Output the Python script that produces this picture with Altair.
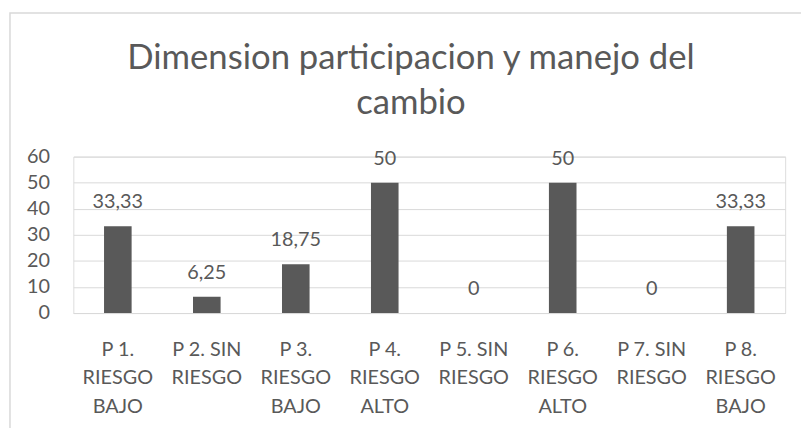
import altair as alt
import pandas as pd

title_lines = ["Dimension participacion y manejo del", "cambio"]
categories = [
    "P 1.|RIESGO|BAJO",
    "P 2. SIN|RIESGO",
    "P 3.|RIESGO|BAJO",
    "P 4.|RIESGO|ALTO",
    "P 5. SIN|RIESGO",
    "P 6.|RIESGO|ALTO",
    "P 7. SIN|RIESGO",
    "P 8.|RIESGO|BAJO",
]
values = [33.33, 6.25, 18.75, 50, 0, 50, 0, 33.33]
y_ticks = [0, 10, 20, 30, 40, 50, 60]

df = pd.DataFrame({"cat": categories, "v": values})

FONT = "Lato"
GREY = "#595959"
GRID = "#d9d9d9"

x_enc = alt.X(
    "cat:N",
    sort=categories,
    title=None,
    scale=alt.Scale(paddingInner=0.69, paddingOuter=0.345),
    axis=alt.Axis(
        labelExpr="split(datum.label, '|')",
        labelAngle=0,
        labelFont=FONT,
        labelFontSize=20,
        labelColor=GREY,
        labelLineHeight=28.5,
        labelPadding=27,
        labelBaseline="top",
        labelOverlap=False,
        ticks=False,
        domainColor=GRID,
        domainWidth=1,
        grid=False,
    ),
)
y_enc = alt.Y(
    "v:Q",
    title=None,
    scale=alt.Scale(domain=[0, 60], nice=False),
    axis=alt.Axis(
        values=y_ticks,
        tickCount=7,
        labelFont=FONT,
        labelFontSize=20,
        labelColor=GREY,
        labelPadding=24,
        labelOverlap=False,
        labelBound=False,
        ticks=False,
        domain=False,
        gridColor=GRID,
        gridWidth=1,
    ),
)

bars = alt.Chart(df).mark_bar(color=GREY).encode(x=x_enc, y=y_enc)

labels = (
    alt.Chart(df)
    .transform_calculate(lab="replace(format(datum.v, '.2~f'), '.', ',')")
    .mark_text(font=FONT, fontSize=20, color=GREY, baseline="alphabetic", dy=-18)
    .encode(x=x_enc, y=y_enc, text="lab:N")
)

frame = (
    alt.Chart(pd.DataFrame({"a": [0]}))
    .mark_rect(fill="transparent", stroke=GRID, strokeWidth=1.5)
    .encode(
        x=alt.value(-64),
        x2=alt.value(800),
        y=alt.value(-145),
        y2=alt.value(300),
    )
)

title = (
    alt.Chart(pd.DataFrame({"a": [0]}))
    .mark_text(
        font=FONT,
        fontSize=35,
        color=GREY,
        align="center",
        baseline="alphabetic",
        lineHeight=46,
    )
    .encode(
        x=alt.value(341),
        y=alt.value(-89),
        text=alt.value(title_lines),
    )
)

chart = (
    alt.layer(bars, labels, frame, title)
    .properties(
        width=719,
        height=158,
        autosize=alt.AutoSizeParams(type="none"),
        padding={"left": 66, "top": 148, "right": 16, "bottom": 114},
    )
    .configure_view(stroke=None)
    .configure(background="white")
)

chart.save("out.html", embed_options={"renderer": "svg", "actions": False})
